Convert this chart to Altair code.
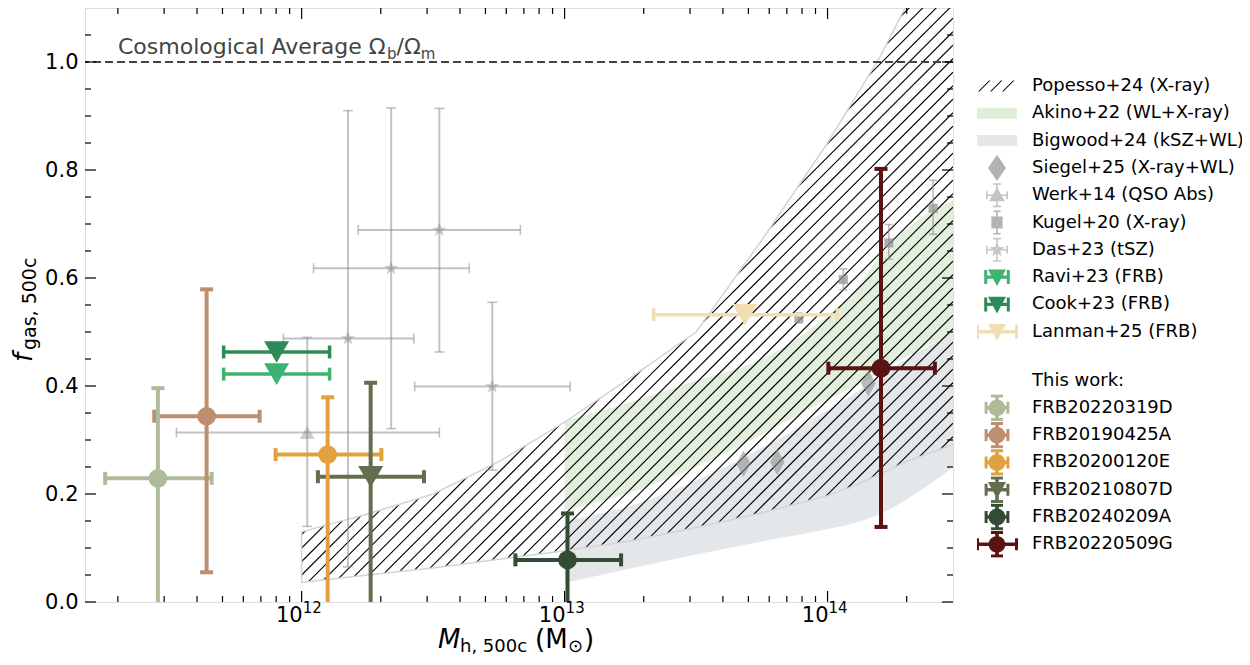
import numpy as np
import pandas as pd
import altair as alt

# ---------------- values ----------------
# This work
frb_names = ["FRB20220319D", "FRB20190425A", "FRB20200120E",
             "FRB20210807D", "FRB20240209A", "FRB20220509G"]
frb_colors = ["#adbb9a", "#bb8f6f", "#e1a13e", "#626f4e", "#344c35", "#5a1212"]
frb_mass = [2.84e11, 4.35e11, 1.256e12, 1.83e12, 1.026e13, 1.597e14]
frb_mass_lo = [1.79e11, 2.75e11, 7.96e11, 1.153e12, 6.5e12, 1.007e14]
frb_mass_hi = [4.55e11, 6.92e11, 2.01e12, 2.92e12, 1.64e13, 2.56e14]
frb_fgas = [0.229, 0.344, 0.273, 0.232, 0.078, 0.433]
frb_fgas_lo = [-0.1, 0.055, -0.1, -0.1, -0.1, 0.139]
frb_fgas_hi = [0.396, 0.579, 0.379, 0.406, 0.164, 0.802]
frb_marker = ["circle", "circle", "circle", "triangle-down", "circle", "circle"]

# FRB literature (x errors only)
frbl_names = ["Ravi+23 (FRB)", "Cook+23 (FRB)", "Lanman+25 (FRB)"]
frbl_colors = ["#3cb371", "#2e8b57", "#f3deb4"]
frbl_mass = [8.03e11, 8.03e11, 4.85e13]
frbl_mass_lo = [5.05e11, 5.05e11, 2.18e13]
frbl_mass_hi = [1.277e12, 1.277e12, 1.09e14]
frbl_fgas = [0.422, 0.463, 0.532]

# Werk+14
werk_mass, werk_mass_lo, werk_mass_hi = [1.05e12], [3.34e11], [3.34e12]
werk_fgas, werk_fgas_lo, werk_fgas_hi = [0.314], [0.14], [0.49]
# Das+23
das_mass = [1.50e12, 2.19e12, 3.34e12, 5.31e12]
das_mass_lo = [8.52e11, 1.11e12, 1.64e12, 2.69e12]
das_mass_hi = [2.67e12, 4.34e12, 6.79e12, 1.05e13]
das_fgas = [0.488, 0.618, 0.689, 0.399]
das_fgas_lo = [0.065, 0.321, 0.463, 0.244]
das_fgas_hi = [0.910, 0.915, 0.914, 0.555]
# Kugel+20
kugel_mass = [7.78e13, 1.148e14, 1.71e14, 2.52e14]
kugel_fgas = [0.526, 0.597, 0.665, 0.729]
kugel_fgas_lo = [0.517, 0.578, 0.635, 0.681]
kugel_fgas_hi = [0.535, 0.617, 0.699, 0.781]
# Siegel+25
siegel_mass = [4.79e13, 6.44e13, 1.43e14]
siegel_fgas = [0.256, 0.259, 0.405]

# bands (log10 mass grid)
popesso_logm = [12.0, 12.25, 12.5, 12.75, 13.0, 13.25, 13.5, 13.75, 14.0, 14.1, 14.2, 14.3, 14.48]
popesso_lo = [0.036, 0.05, 0.063, 0.079, 0.095, 0.113, 0.138, 0.165, 0.197, 0.215, 0.237, 0.26, 0.292]
popesso_hi = [0.13, 0.163, 0.20, 0.26, 0.333, 0.415, 0.50, 0.67, 0.85, 0.93, 1.01, 1.105, 1.3]
band_logm = [13.0, 13.25, 13.5, 13.75, 14.0, 14.1, 14.2, 14.3, 14.48]
akino_lo = [0.169, 0.203, 0.25, 0.31, 0.375, 0.398, 0.425, 0.455, 0.496]
akino_hi = [0.335, 0.37, 0.41, 0.45, 0.53, 0.575, 0.64, 0.69, 0.745]
bigwood_lo = [0.035, 0.062, 0.088, 0.112, 0.135, 0.146, 0.163, 0.19, 0.25]
bigwood_hi = [0.15, 0.178, 0.225, 0.285, 0.355, 0.385, 0.42, 0.45, 0.50]

cosmo_level = [1.0]

# axis ticks / labels
x_major = [1e12, 1e13, 1e14]
x_major_exp = ["12", "13", "14"]
x_minor = [k * 10.0 ** e for e in (11, 12, 13, 14) for k in range(2, 10) if 1.5e11 < k * 10.0 ** e < 2.99e14]
y_major = [0.0, 0.2, 0.4, 0.6, 0.8, 1.0]
y_minor = [round(0.05 * k, 2) for k in range(1, 22) if k % 4 != 0]

lit_names = ["Popesso+24 (X-ray)", "Akino+22 (WL+X-ray)", "Bigwood+24 (kSZ+WL)",
             "Siegel+25 (X-ray+WL)", "Werk+14 (QSO Abs)", "Kugel+20 (X-ray)",
             "Das+23 (tSZ)", "Ravi+23 (FRB)", "Cook+23 (FRB)", "Lanman+25 (FRB)"]
lit_fill = ["#000000", "#dfedd9", "#e5e8ea", "#b3b3b3", "#c4c4c4", "#b3b3b3",
            "#c8c8c8", "#3cb371", "#2e8b57", "#f3deb4"]

# ---------------- layout ----------------
W, H = 868, 594
XMIN, XMAX = 1.5e11, 3e14
YMAX = 1.1
FONT = "DejaVu Sans"


# ---------------- glyph helpers (symbol shapes) ----------------
def rect(x0, y0, x1, y1):
    return f"M{x0:.3f},{y0:.3f}L{x1:.3f},{y0:.3f}L{x1:.3f},{y1:.3f}L{x0:.3f},{y1:.3f}Z"


def poly(pts):
    area = sum(p[0] * q[1] - q[0] * p[1] for p, q in zip(pts, pts[1:] + pts[:1]))
    if area < 0:
        pts = pts[::-1]
    return "M" + "L".join(f"{x:.3f},{y:.3f}" for x, y in pts) + "Z"


def circ(r):
    return f"M{r:.3f},0A{r:.3f},{r:.3f} 0 1,1 {-r:.3f},0A{r:.3f},{r:.3f} 0 1,1 {r:.3f},0Z"


def star(R, r):
    pts = []
    for i in range(10):
        a = -np.pi / 2 + i * np.pi / 5
        rad = R if i % 2 == 0 else r
        pts.append((float(rad * np.cos(a)), float(rad * np.sin(a))))
    return poly(pts)


BB = 0.66


def bbox():
    e = 0.002
    return rect(-e, -BB, e, -BB + e) + rect(-e, BB - e, e, BB)


def ebar(hw=0, vh=0, t=0.08, cap=0.2, ct=0.08):
    s = ""
    if hw:
        s += rect(-hw, -t / 2, hw, t / 2) + rect(-hw, -cap, -hw + ct, cap) + rect(hw - ct, -cap, hw, cap)
    if vh:
        s += rect(-t / 2, -vh, t / 2, vh) + rect(-cap, -vh, cap, -vh + ct) + rect(-cap, vh - ct, cap, vh)
    return s


STAR = star(1.0, 0.42)
THIN_DIAMOND = "M0,-1L0.55,0L0,1L-0.55,0Z"

xscale = alt.Scale(type="log", domain=[XMIN, XMAX], nice=False)
yscale = alt.Scale(domain=[0, YMAX], nice=False, zero=False)
yaxis = alt.Axis(values=y_major, format=".1f", ticks=False, tickSize=0, domain=False, grid=False,
                 labelFontSize=21, labelFont=FONT, labelColor="black", labelPadding=7, title=None)


def X(f):
    return alt.X(f, type="quantitative", scale=xscale, axis=None)


def Y(f):
    return alt.Y(f, type="quantitative", scale=yscale, axis=yaxis)


all_names = frb_names + frbl_names + ["Werk", "Das", "Kugel", "Siegel"]
all_colors = frb_colors + frbl_colors + ["#8f8f8f"] * 4
cscale = alt.Scale(domain=all_names, range=all_colors)
COL = alt.Color("name:N", scale=cscale, legend=None)

layers = []

# ---------------- bands ----------------
big_df = pd.DataFrame({"m": 10 ** np.array(band_logm), "lo": bigwood_lo, "hi": bigwood_hi})
ak_df = pd.DataFrame({"m": 10 ** np.array(band_logm), "lo": akino_lo, "hi": akino_hi})
pop_df = pd.DataFrame({"m": 10 ** np.array(popesso_logm), "lo": popesso_lo, "hi": popesso_hi})

layers.append(alt.Chart(big_df).mark_area(color="#e4e7e9", opacity=1, clip=True,
                                          interpolate="monotone").encode(
    x=X("m"), y=Y("lo"), y2="hi"))
layers.append(alt.Chart(ak_df).mark_area(color="#d6e8cf", opacity=0.7, clip=True,
                                         interpolate="monotone").encode(
    x=X("m"), y=Y("lo"), y2="hi"))

# hatch lines for the Popesso band (45 degrees on screen)
lx0, lx1 = np.log10(XMIN), np.log10(XMAX)
ppd = W / (lx1 - lx0)
ppf = H / YMAX
slope = ppd / ppf
dL = 13.5 / ppd
Lg = np.arange(popesso_logm[0], lx1, 0.0005)
blo = np.interp(Lg, popesso_logm, popesso_lo)
bhi = np.interp(Lg, popesso_logm, popesso_hi)
segs = []
c = popesso_logm[0] - 1.4 / slope
while c < lx1:
    fl = slope * (Lg - c)
    inside = (fl >= blo) & (fl <= bhi) & (fl <= YMAX + 0.05)
    if inside.any():
        idx = np.where(inside)[0]
        breaks = np.where(np.diff(idx) > 1)[0]
        starts = np.concatenate([[idx[0]], idx[breaks + 1]])
        ends = np.concatenate([idx[breaks], [idx[-1]]])
        for s, e in zip(starts, ends):
            if e > s:
                segs.append((float(10 ** Lg[s]), float(fl[s]), float(10 ** Lg[e]), float(fl[e])))
    c += dL
hatch_df = pd.DataFrame(segs, columns=["m1", "f1", "m2", "f2"])
layers.append(alt.Chart(hatch_df).mark_rule(color="black", strokeWidth=1.1, clip=True).encode(
    x=X("m1"), y=Y("f1"), x2="m2", y2="f2"))
layers.append(alt.Chart(pop_df).mark_area(color="white", fillOpacity=0, stroke="#d4d4d4",
                                          strokeWidth=1.5, clip=True).encode(
    x=X("m"), y=Y("lo"), y2="hi"))

# cosmological average line
cos_df = pd.DataFrame({"f": cosmo_level})
layers.append(alt.Chart(cos_df).mark_rule(color="#444444", strokeWidth=2, strokeDash=[8, 4]).encode(
    y=Y("f")))


# ---------------- error bars helper ----------------
def ebars(df, sw, cap, capw, op=1.0, xerr=True, yerr=True):
    out = []
    if xerr:
        out.append(alt.Chart(df).mark_rule(strokeWidth=sw, opacity=op, clip=True).encode(
            x=X("mlo"), x2="mhi", y=Y("f"), color=COL))
        for col in ("mlo", "mhi"):
            out.append(alt.Chart(df).mark_tick(orient="vertical", size=cap, thickness=capw,
                                               opacity=op, clip=True).encode(
                x=X(col), y=Y("f"), color=COL))
    if yerr:
        out.append(alt.Chart(df).mark_rule(strokeWidth=sw, opacity=op, clip=True).encode(
            x=X("m"), y=Y("flo"), y2="fhi", color=COL))
        dlo = df[df["flo"] >= 0]
        if len(dlo):
            out.append(alt.Chart(dlo).mark_tick(orient="horizontal", size=cap, thickness=capw,
                                                opacity=op, clip=True).encode(
                x=X("m"), y=Y("flo"), color=COL))
        out.append(alt.Chart(df).mark_tick(orient="horizontal", size=cap, thickness=capw,
                                           opacity=op, clip=True).encode(
            x=X("m"), y=Y("fhi"), color=COL))
    return out


werk_df = pd.DataFrame({"name": "Werk", "m": werk_mass, "mlo": werk_mass_lo, "mhi": werk_mass_hi,
                        "f": werk_fgas, "flo": werk_fgas_lo, "fhi": werk_fgas_hi})
das_df = pd.DataFrame({"name": "Das", "m": das_mass, "mlo": das_mass_lo, "mhi": das_mass_hi,
                       "f": das_fgas, "flo": das_fgas_lo, "fhi": das_fgas_hi})
kug_df = pd.DataFrame({"name": "Kugel", "m": kugel_mass, "f": kugel_fgas,
                       "flo": kugel_fgas_lo, "fhi": kugel_fgas_hi})
sie_df = pd.DataFrame({"name": "Siegel", "m": siegel_mass, "f": siegel_fgas})
frbl_df = pd.DataFrame({"name": frbl_names, "m": frbl_mass, "mlo": frbl_mass_lo,
                        "mhi": frbl_mass_hi, "f": frbl_fgas})
frb_df = pd.DataFrame({"name": frb_names, "m": frb_mass, "mlo": frb_mass_lo, "mhi": frb_mass_hi,
                       "f": frb_fgas, "flo": frb_fgas_lo, "fhi": frb_fgas_hi, "mk": frb_marker})

layers += ebars(werk_df, 2, 10, 1.6, op=0.55)
layers += ebars(das_df, 2, 10, 1.6, op=0.55)
layers += ebars(kug_df, 1.6, 8, 1.6, op=0.6, xerr=False)
layers.append(alt.Chart(werk_df).mark_point(filled=True, shape="triangle-up", size=225, opacity=0.45).encode(
    x=X("m"), y=Y("f"), color=COL))
layers.append(alt.Chart(das_df).mark_point(filled=True, shape=STAR, size=220, opacity=0.45).encode(
    x=X("m"), y=Y("f"), color=COL))
layers.append(alt.Chart(kug_df).mark_point(filled=True, shape="square", size=85, opacity=0.7).encode(
    x=X("m"), y=Y("f"), color=COL))
layers.append(alt.Chart(sie_df).mark_point(filled=True, shape=THIN_DIAMOND,
                                           size=700, opacity=0.6).encode(
    x=X("m"), y=Y("f"), color=COL))

layers += ebars(frbl_df, 3.5, 13, 3.5, yerr=False)
layers.append(alt.Chart(frbl_df).mark_point(filled=True, shape="triangle-down", size=625, opacity=1).encode(
    x=X("m"), y=Y("f"), color=COL))

layers += ebars(frb_df, 4, 13, 4)
layers.append(alt.Chart(frb_df[frb_df.mk == "circle"]).mark_point(
    filled=True, shape="circle", size=350, opacity=1).encode(x=X("m"), y=Y("f"), color=COL))
layers.append(alt.Chart(frb_df[frb_df.mk == "triangle-down"]).mark_point(
    filled=True, shape="triangle-down", size=625, opacity=1).encode(x=X("m"), y=Y("f"), color=COL))

# ---------------- inward ticks on all four sides ----------------
xM = pd.DataFrame({"m": x_major})
xm = pd.DataFrame({"m": x_minor})
yM = pd.DataFrame({"f": y_major})
ym = pd.DataFrame({"f": y_minor})
TK = dict(color="black", strokeWidth=1.2)
for d, L in ((xM, 11), (xm, 6)):
    layers.append(alt.Chart(d).mark_rule(**TK).encode(x=X("m"), y=alt.value(H), y2=alt.value(H - L)))
    layers.append(alt.Chart(d).mark_rule(**TK).encode(x=X("m"), y=alt.value(0), y2=alt.value(L)))
for d, L in ((yM, 11), (ym, 6)):
    layers.append(alt.Chart(d).mark_rule(**TK).encode(y=Y("f"), x=alt.value(0), x2=alt.value(L)))
    layers.append(alt.Chart(d).mark_rule(**TK).encode(y=Y("f"), x=alt.value(W - L), x2=alt.value(W)))

# x tick labels 10^n
xl = pd.DataFrame({"m": x_major, "base": ["10"] * 3, "exp": x_major_exp})
layers.append(alt.Chart(xl).mark_text(align="right", baseline="alphabetic", fontSize=21, font=FONT,
                                      color="black", dx=1).encode(x=X("m"), y=alt.value(H + 20), text="base"))
layers.append(alt.Chart(xl).mark_text(align="left", baseline="alphabetic", fontSize=15, font=FONT,
                                      color="black", dx=1).encode(x=X("m"), y=alt.value(H + 11), text="exp"))


# ---------------- titles & annotation ----------------
def txt(s, x, y, size, style="normal", angle=0, dx=0, dy=0, color="black"):
    kw = dict(align="left", baseline="alphabetic", fontSize=size, font=FONT, fontStyle=style,
              color=color, dx=dx, dy=dy)
    if angle:
        kw["angle"] = angle
    return alt.Chart(pd.DataFrame({"t": [s]})).mark_text(**kw).encode(
        x=alt.value(x), y=alt.value(y), text="t")


X0 = 353
TY = H + 46
layers += [
    txt("M", X0, TY, 26, "italic"),
    txt("h, 500c", X0 + 22, TY, 18, dy=3.5),
    txt("(M", X0 + 97, TY, 26),
    txt("\u2299", X0 + 130, TY, 18, dy=3.5),
    txt(")", X0 + 146, TY, 26),
]
YB = H / 2 + 57
YTX = -53
layers += [
    txt("f", YTX, YB, 26, "italic", angle=270),
    txt("gas, 500c", YTX, YB, 19, angle=270, dx=12, dy=4),
]

ann = pd.DataFrame({"f": cosmo_level})


def anntxt(s, x, size, dy):
    return alt.Chart(ann).mark_text(align="left", baseline="alphabetic", fontSize=size, font=FONT,
                                    color="#444444", dy=dy).encode(
        x=alt.value(x), y=Y("f"), text=alt.value(s))


layers += [
    anntxt("Cosmological Average \u03a9", 33, 22, -8),
    anntxt("b", 33 + 269, 15, -3.5),
    anntxt("/\u03a9", 33 + 278.5, 22, -8),
    anntxt("m", 33 + 302.7, 15, -3.5),
]

# ---------------- legend glyphs ----------------
tri_down = poly([(-0.45, -0.38), (0.45, -0.38), (0.0, 0.45)])
hatch_g = "".join(poly([(x0, 0.275), (x0 + 0.55, -0.275), (x0 + 0.62, -0.275), (x0 + 0.07, 0.275)])
                  for x0 in (-0.95, -0.35, 0.25))
lit_paths = [
    hatch_g + bbox(),
    rect(-1, -0.275, 1, 0.275) + bbox(),
    rect(-1, -0.275, 1, 0.275) + bbox(),
    poly([(0, -0.66), (0.45, 0), (0, 0.66), (-0.45, 0)]) + bbox(),
    poly([(-0.4, 0.3), (0.4, 0.3), (0, -0.4)]) + ebar(0.55, 0.6) + bbox(),
    rect(-0.28, -0.3, 0.28, 0.3) + ebar(0, 0.6, cap=0.18) + bbox(),
    star(0.4, 0.17) + ebar(0.55, 0.6) + bbox(),
    tri_down + ebar(0.64, 0, 0.17, 0.35, 0.15) + bbox(),
    tri_down + ebar(0.64, 0, 0.17, 0.35, 0.15) + bbox(),
    tri_down + ebar(1.05, 0, 0.17, 0.35, 0.15) + bbox(),
]
frb_leg_names = ["This work:"] + frb_names
frb_leg_fill = ["rgba(0,0,0,0)"] + frb_colors
frb_eb = ebar(0.62, 0.66, 0.18, 0.3, 0.15)
frb_paths = [bbox()] + [
    circ(0.42) + frb_eb + bbox(),
    circ(0.42) + frb_eb + bbox(),
    circ(0.42) + frb_eb + bbox(),
    tri_down + frb_eb + bbox(),
    circ(0.42) + frb_eb + bbox(),
    circ(0.42) + ebar(1.05, 0.66, 0.18, 0.3, 0.15) + bbox(),
]

CLIPH = 27.0


def mk_legend(yc):
    return alt.Legend(orient="none", legendX=892, legendY=yc - 8 - CLIPH / 2, direction="vertical",
                      columns=1, title=None, symbolSize=1600, symbolStrokeWidth=0, symbolOpacity=1,
                      labelFontSize=18, labelFont=FONT, labelColor="black", labelOffset=15,
                      clipHeight=CLIPH, rowPadding=0.3, labelLimit=400, padding=0, offset=0,
                      gridAlign="all")


leg1 = mk_legend(86)
leg2 = mk_legend(380.5)
layers.append(alt.Chart(pd.DataFrame({"lit": lit_names})).mark_point(filled=True, opacity=0).encode(
    fill=alt.Fill("lit:N", scale=alt.Scale(domain=lit_names, range=lit_fill), legend=leg1),
    shape=alt.Shape("lit:N", scale=alt.Scale(domain=lit_names, range=lit_paths), legend=leg1)))
layers.append(alt.Chart(pd.DataFrame({"frb": frb_leg_names})).mark_point(filled=True, opacity=0).encode(
    fill=alt.Fill("frb:N", scale=alt.Scale(domain=frb_leg_names, range=frb_leg_fill), legend=leg2),
    shape=alt.Shape("frb:N", scale=alt.Scale(domain=frb_leg_names, range=frb_paths), legend=leg2)))

chart = alt.layer(*layers).resolve_scale(fill="independent", shape="independent").properties(
    width=W, height=H,
    padding={"left": 77, "top": 0, "right": 289, "bottom": 649 - H},
    autosize=alt.AutoSizeParams(type="none"),
).configure_view(stroke="black", strokeWidth=1.5).configure(font=FONT)

chart.save("out.html", embed_options={"renderer": "svg", "actions": False})
